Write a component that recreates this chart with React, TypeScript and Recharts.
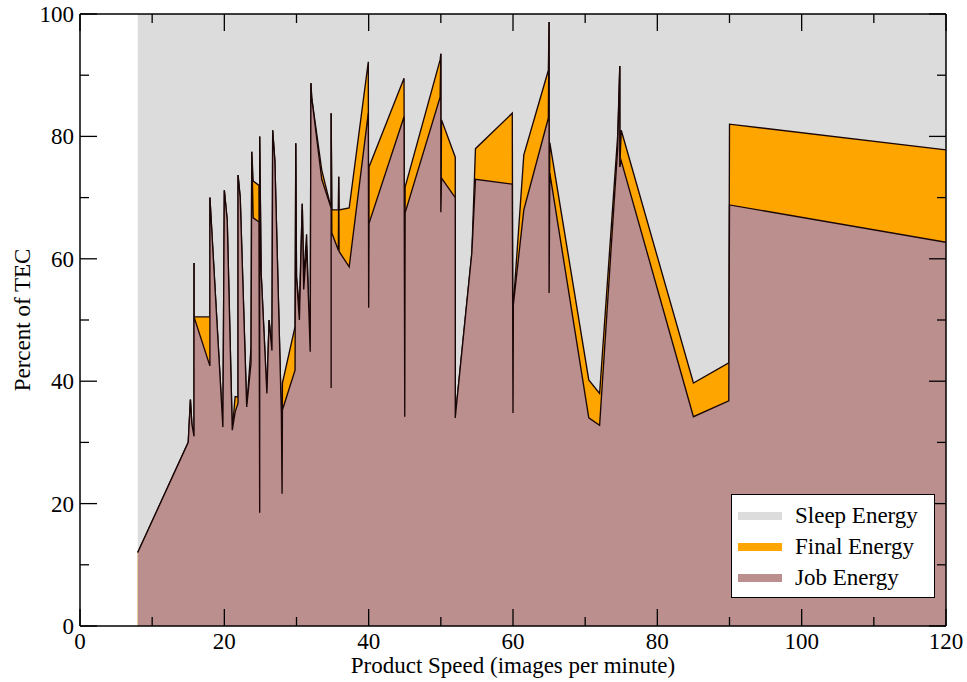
import React from 'react';
import { ComposedChart, Area, Line, XAxis, YAxis, Legend } from 'recharts';

// Product speed (images per minute)
const speed = [
  8, 15, 15.3, 15.5, 15.8, 15.8, 15.8, 18, 18, 19.8, 20, 20.4, 21.1, 21.5, 21.9, 21.9, 22.2, 23.1, 23.7, 23.8,
  24, 24.8, 24.9, 24.9, 25.1, 25.9, 26.2, 26.6, 26.7, 27, 27.9, 28, 28.05, 29.8, 29.9, 30, 30.4, 30.8, 31, 31.4,
  31.7, 31.9, 32, 32.1, 33.5, 34.8, 34.8, 34.8, 34.9, 35.8, 35.85, 35.9, 37.3, 39.95, 40, 40.05, 44.9, 45, 45.05, 49.9,
  50, 50, 50.1, 52, 52, 52.1, 54.3, 54.8, 59.9, 60, 60.05, 61.5, 64.9, 65, 65, 65.1, 70.5, 72, 74.5, 74.8,
  74.8, 75, 85, 89.9, 90, 120,
];
// Job energy (% of TEC)
const jobEnergy = [
  12, 30, 37, 33, 31, 59.3, 50.5, 42.5, 70, 32.5, 71.2, 66.3, 32, 35, 36.4, 73.7, 70, 35.8, 43, 77.5,
  66.7, 66, 18.5, 80, 57.7, 38, 50, 45, 81, 76, 34.8, 21.6, 35.3, 41.8, 78.9, 57, 50, 69, 55, 62,
  52, 44.8, 88.7, 86.4, 73, 68.3, 38.9, 83.8, 64.2, 61.4, 73.4, 61.2, 58.7, 83.8, 52, 65.8, 83.2, 34.2, 67.5, 86.4,
  93.5, 67.6, 73.2, 70, 34, 35.3, 61, 73, 72.2, 34.8, 52.5, 68, 83, 98.7, 54.4, 74, 34, 32.8, 78, 91.5,
  75, 76, 34.2, 36.8, 68.8, 62.7,
];
// Final energy (% of TEC)
const finalEnergy = [
  0, 0, 0, 0, 0, 0, 0, 8, 0, 0, 0, 0, 0, 2.5, 1, 0, 0, 0, 2.5, 0,
  6, 6, 0, 0, 0, 0, 0, 0, 0, 0, 0, 0, 4.4, 7.1, 0, 0, 2, 0, 2, 2,
  0, 0, 0, 0, 1.5, 0, 0, 0, 3.8, 6.6, 0, 6.8, 9.6, 8.4, 0, 9.2, 6.3, 0, 4.2, 6.1,
  0, 0, 9.5, 6.6, 0, 0, 0, 5, 11.6, 0, 0, 9, 7.8, 0, 0, 5, 6.2, 5.2, 2, 0,
  0, 5, 5.5, 6.2, 13.2, 15.1,
];

const xTicks = [0, 10, 20, 30, 40, 50, 60, 70, 80, 90, 100, 110, 120];
const yTicks = [0, 10, 20, 30, 40, 50, 60, 70, 80, 90, 100];
const legendLabels = ['Sleep Energy', 'Final Energy', 'Job Energy'];
const legendColors = ['#dcdcdc', '#ffa500', '#bc8f8f'];

// cumulative table (drawn back to front so outlines stay on top)
const data = speed.map((x, i) => {
  const job = jobEnergy[i];
  const fin = finalEnergy[i];
  const sleep = 100 - job - fin;
  return { x, job, jobFinal: job + fin, total: job + fin + sleep };
});

const FONT = "'Liberation Serif', 'Times New Roman', serif";
const MAJOR = 17;
const MINOR = 9;
const EDGE = '#1a0606';

const BottomTick = (props: any) => {
  const { x, y, payload } = props;
  const major = payload.value % 20 === 0;
  return (
    <g>
      <line x1={x} y1={y} x2={x} y2={y - (major ? MAJOR : MINOR)} stroke="#000" strokeWidth={1.3} />
      {major && (
        <text x={x} y={y + 23} textAnchor="middle" fontSize={23} fontFamily={FONT} fill="#000">
          {payload.value}
        </text>
      )}
    </g>
  );
};
const TopTick = (props: any) => {
  const { x, y, payload } = props;
  const major = payload.value % 20 === 0;
  return <line x1={x} y1={y} x2={x} y2={y + (major ? MAJOR : MINOR)} stroke="#000" strokeWidth={1.3} />;
};
const LeftTick = (props: any) => {
  const { x, y, payload } = props;
  const major = payload.value % 20 === 0;
  return (
    <g>
      <line x1={x} y1={y} x2={x + (major ? MAJOR : MINOR)} y2={y} stroke="#000" strokeWidth={1.3} />
      {major && (
        <text x={x - 6} y={y + 8} textAnchor="end" fontSize={23} fontFamily={FONT} fill="#000">
          {payload.value}
        </text>
      )}
    </g>
  );
};
const RightTick = (props: any) => {
  const { x, y, payload } = props;
  const major = payload.value % 20 === 0;
  return <line x1={x} y1={y} x2={x - (major ? MAJOR : MINOR)} y2={y} stroke="#000" strokeWidth={1.3} />;
};

const XTitle = (props: any) => {
  const vb = props.viewBox;
  return (
    <text x={vb.x + vb.width / 2} y={vb.y + 47} textAnchor="middle" fontSize={23} fontFamily={FONT} fill="#000">
      Product Speed (images per minute)
    </text>
  );
};
const YTitle = (props: any) => {
  const vb = props.viewBox;
  const cx = 22;
  const cy = vb.y + vb.height / 2;
  return (
    <text x={cx} y={cy} transform={`rotate(-90 ${cx} ${cy})`} textAnchor="middle" dominantBaseline="central" fontSize={23} fontFamily={FONT} fill="#000">
      Percent of TEC
    </text>
  );
};

const LegendBox = () => (
  <div
    style={{
      border: '1.5px solid #000',
      background: '#fff',
      width: 204,
      height: 104,
      boxSizing: 'border-box',
      paddingTop: 5,
      fontFamily: FONT,
      fontSize: 23,
      color: '#000',
    }}
  >
    {legendLabels.map((l, i) => (
      <div key={l} style={{ display: 'flex', alignItems: 'center', height: 31 }}>
        <span style={{ display: 'inline-block', width: 44, height: 8, background: legendColors[i], marginLeft: 6, marginRight: 13 }} />
        <span style={{ lineHeight: '31px' }}>{l}</span>
      </div>
    ))}
  </div>
);

export default function App() {
  return (
    <div style={{ position: 'absolute', left: 0, top: 0, background: '#fff' }}>
      <ComposedChart width={967} height={682} data={data} margin={{ top: 4, right: 11, bottom: 16, left: 20 }}>
        <Area type="linear" dataKey="total" baseValue={0} stroke="none" fill="#dcdcdc" fillOpacity={1} isAnimationActive={false} />
        <Area type="linear" dataKey="jobFinal" baseValue={0} stroke={EDGE} strokeWidth={1.35} fill="#ffa500" fillOpacity={1} isAnimationActive={false} />
        <Area type="linear" dataKey="job" baseValue={0} stroke={EDGE} strokeWidth={1.35} fill="#bc8f8f" fillOpacity={1} isAnimationActive={false} />
        <Line
          xAxisId="top"
          yAxisId="right"
          type="linear"
          dataKey="total"
          stroke="none"
          dot={false}
          activeDot={false}
          legendType="none"
          isAnimationActive={false}
        />
        <XAxis
          dataKey="x"
          type="number"
          domain={[0, 120]}
          ticks={xTicks}
          allowDataOverflow
          height={40}
          tickSize={0}
          tickMargin={0}
          tickLine={false}
          axisLine={{ stroke: '#000', strokeWidth: 1.5 }}
          tick={<BottomTick />}
          interval={0}
          label={<XTitle />}
        />
        <XAxis
          xAxisId="top"
          orientation="top"
          dataKey="x"
          type="number"
          domain={[0, 120]}
          ticks={xTicks}
          allowDataOverflow
          height={10}
          tickSize={0}
          tickMargin={0}
          tickLine={false}
          axisLine={{ stroke: '#000', strokeWidth: 1.5 }}
          tick={<TopTick />}
          interval={0}
        />
        <YAxis
          type="number"
          domain={[0, 100]}
          ticks={yTicks}
          allowDataOverflow
          width={60}
          tickSize={0}
          tickMargin={0}
          tickLine={false}
          axisLine={{ stroke: '#000', strokeWidth: 1.5 }}
          tick={<LeftTick />}
          interval={0}
          label={<YTitle />}
        />
        <YAxis
          yAxisId="right"
          orientation="right"
          type="number"
          domain={[0, 100]}
          ticks={yTicks}
          allowDataOverflow
          width={10}
          tickSize={0}
          tickMargin={0}
          tickLine={false}
          axisLine={{ stroke: '#000', strokeWidth: 1.5 }}
          tick={<RightTick />}
          interval={0}
        />
        <Legend
          layout="vertical"
          align="center"
          verticalAlign="middle"
          content={<LegendBox />}
          wrapperStyle={{ left: 731, top: 494, width: 204, height: 104 }}
        />
      </ComposedChart>
    </div>
  );
}
